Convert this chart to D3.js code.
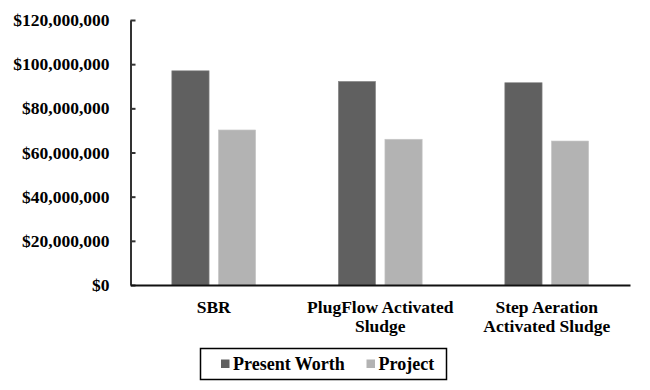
<!DOCTYPE html>
<html>
<head>
<meta charset="utf-8">
<script src="https://cdn.jsdelivr.net/npm/d3@7"></script>
<style>
  body { margin: 0; background: #fff; }
  svg text { font-family: "Liberation Serif", "Tinos", "Times New Roman", "DejaVu Serif", serif !important; font-weight: bold; }
</style>
</head>
<body>
<div id="chart"></div>
<script>
const categories = [["SBR"], ["PlugFlow Activated", "Sludge"], ["Step Aeration", "Activated Sludge"]];
const seriesNames = ["Present Worth", "Project"];
const presentWorth = [97000000, 92200000, 91600000];
const project = [70200000, 66000000, 65200000];
const yTicks = [0, 20000000, 40000000, 60000000, 80000000, 100000000, 120000000];
const colors = ["#606060", "#b3b3b3"];

const W = 650, H = 390;
const svg = d3.select("#chart").append("svg").attr("width", W).attr("height", H);

const x0 = d3.scaleBand().domain(d3.range(categories.length)).range([130.5, 630]).paddingInner(0).paddingOuter(0);
const x1 = d3.scaleBand().domain(d3.range(seriesNames.length)).range([0, x0.bandwidth()]).paddingInner(0.2).paddingOuter(0.887);
const y = d3.scaleLinear().domain([0, 120000000]).range([285, 20]);

const fmt = v => "$" + d3.format(",")(v);
const FS = 17.5;

// bars
const data = categories.map((c, i) => [presentWorth[i], project[i]]);
const g = svg.append("g");
data.forEach((vals, i) => {
  vals.forEach((v, s) => {
    g.append("rect")
      .attr("x", x0(i) + x1(s))
      .attr("y", y(v))
      .attr("width", x1.bandwidth())
      .attr("height", y(0) - y(v))
      .attr("fill", colors[s])
      .attr("stroke", s === 0 ? "#8a8a8a" : "#c8c8c8")
      .attr("stroke-width", 0.6);
  });
});

// y axis
const yAxis = d3.axisLeft(y).tickValues(yTicks).tickFormat(fmt).tickSizeInner(-5).tickSizeOuter(0).tickPadding(21);
const ya = svg.append("g").attr("transform", "translate(130.5,0)").call(yAxis);
ya.attr("font-family", null).attr("font-size", null);
ya.select(".domain").attr("stroke", "#333").attr("stroke-width", 2);
ya.selectAll(".tick line").attr("stroke", "#333").attr("stroke-width", 2);
ya.selectAll(".tick text").attr("font-size", FS).attr("fill", "#000");

// x axis
const xAxis = d3.axisBottom(x0).tickSize(0).tickFormat("");
const xa = svg.append("g").attr("transform", "translate(0,285)").call(xAxis);
xa.select(".domain").attr("stroke", "#111").attr("stroke-width", 2);

// category labels
categories.forEach((lines, i) => {
  const cx = x0(i) + x0.bandwidth() / 2;
  const t = svg.append("text")
    .attr("x", cx)
    .attr("y", 313)
    .attr("text-anchor", "middle")
    .attr("font-size", FS)
    .attr("fill", "#000");
  lines.forEach((ln, k) => {
    t.append("tspan").attr("x", cx).attr("dy", k === 0 ? 0 : 19).text(ln);
  });
});

// legend
const lg = svg.append("g");
lg.append("rect").attr("x", 200.5).attr("y", 348.5).attr("width", 246).attr("height", 31)
  .attr("fill", "none").attr("stroke", "#000").attr("stroke-width", 1.5);
const legendItems = [{ x: 221, name: seriesNames[0], c: colors[0] }, { x: 366.5, name: seriesNames[1], c: colors[1] }];
legendItems.forEach(it => {
  lg.append("rect").attr("x", it.x).attr("y", 359.5).attr("width", 8.5).attr("height", 8.5).attr("fill", it.c);
  lg.append("text").attr("x", it.x + 12).attr("y", 369.5).attr("font-size", 18).attr("fill", "#000").text(it.name);
});
</script>
</body>
</html>
